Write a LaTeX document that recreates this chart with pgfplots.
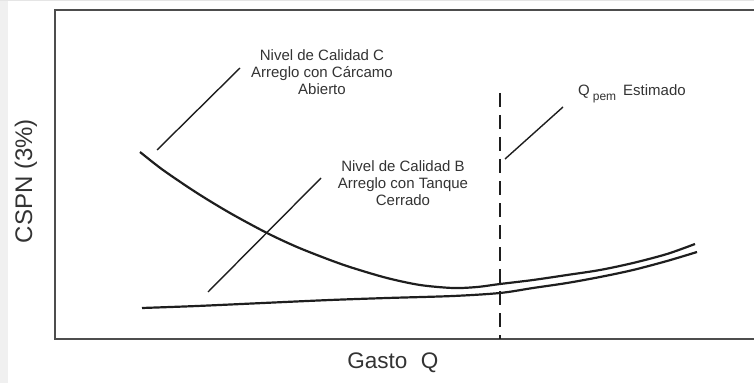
\documentclass[border=0pt]{standalone}
\usepackage{fontspec}
\setmainfont{Liberation Sans}
\usepackage{pgfplots}
\pgfplotsset{compat=1.18}
\definecolor{ink}{HTML}{1E1E1E}
\definecolor{txt}{HTML}{333333}
\definecolor{frame}{HTML}{4D4D4D}
\begin{document}
\begin{tikzpicture}
\useasboundingbox (-55pt,-44pt) rectangle (699pt,339pt);
% screenshot margins
\fill[black!6] (-55pt,-44pt) rectangle (-47pt,339pt);
\fill[black!10] (-55pt,338pt) rectangle (699pt,339pt);
\begin{axis}[
  at={(0pt,0pt)}, anchor=south west,
  scale only axis, width=699pt, height=329pt,
  xmin=0, xmax=699, ymin=0, ymax=329,
  axis lines*=left,
  axis line style={draw=none},
  xtick=\empty, ytick=\empty,
  clip=false,
  xlabel={Gasto\hspace{0.6em}Q}, ylabel={CSPN (3\%)},
  xlabel style={at={(axis description cs:0.4835,-0.073)}, anchor=center,
    font=\fontsize{22.5}{24}\selectfont, text=txt},
  ylabel style={at={(axis description cs:-0.0415,0.48)}, anchor=center,
    font=\fontsize{24}{26}\selectfont, text=txt},
  curve/.style={ink, line width=2.2pt, smooth, mark=none},
]
% frame, open on the right
\draw[frame, line width=1.6pt] (rel axis cs:1,1) -- (rel axis cs:0,1)
  -- (rel axis cs:0,0) -- (rel axis cs:1,0);

% Nivel de Calidad C
\addplot[curve] coordinates {(85,187) (108,169) (142,146) (175,126) (212,106)
  (242,92) (275,79) (298,71) (332,61) (365,54) (398,51) (422,52) (445,55)
  (478,59) (512,64) (545,69) (578,76) (612,85) (640,95)};
% Nivel de Calidad B
\addplot[curve] coordinates {(87,31) (142,33) (208,36) (275,39) (332,41) (398,43)
  (445,46) (478,51) (512,56) (545,62) (578,69) (612,78) (642,87)};

% Q pem
\draw[ink, line width=1.5pt, dash pattern=on 14pt off 8pt]
  (axis cs:445,246) -- (axis cs:445,0);

% leaders
\draw[ink, line width=1.4pt] (axis cs:102,189) -- (axis cs:185,271);
\draw[ink, line width=1.4pt] (axis cs:153,47) -- (axis cs:266,161);
\draw[ink, line width=1.4pt] (axis cs:450,180) -- (axis cs:508,232);

\node[align=center, font=\fontsize{15}{17}\selectfont, text=txt]
  at (axis cs:267,267) {Nivel de Calidad C\\Arreglo con Cárcamo\\Abierto};
\node[align=center, font=\fontsize{15}{17}\selectfont, text=txt]
  at (axis cs:348,156) {Nivel de Calidad B\\Arreglo con Tanque\\Cerrado};
\node[anchor=base west, inner sep=0pt, font=\fontsize{15}{17}\selectfont, text=txt]
  at (axis cs:523,243) {Q\hspace{3pt}\raisebox{-5pt}{\fontsize{12}{12}\selectfont pem}\hspace{7pt}Estimado};
\end{axis}
\end{tikzpicture}
\end{document}
